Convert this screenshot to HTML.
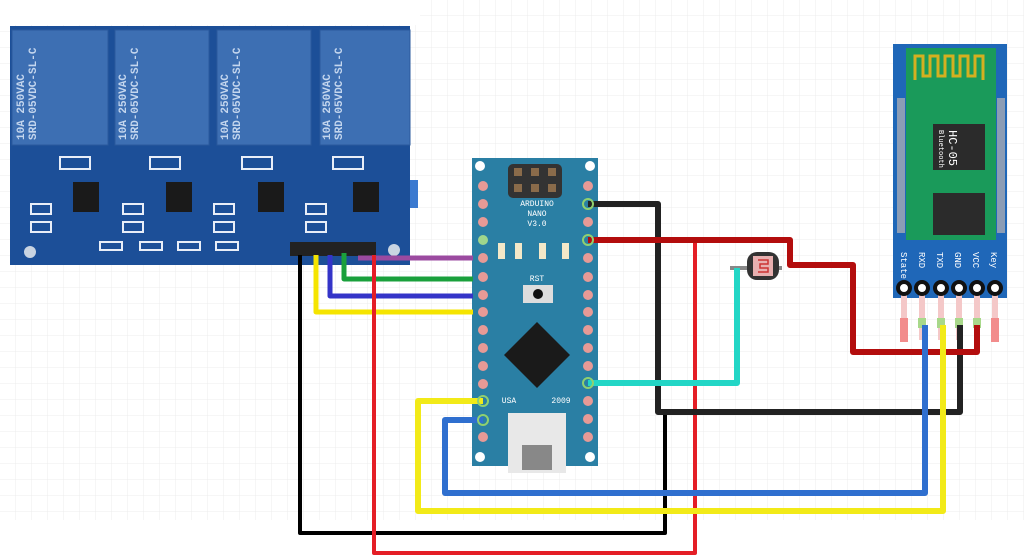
<!DOCTYPE html>
<html><head><meta charset="utf-8"><style>
html,body{margin:0;padding:0;background:#fff;}
svg{display:block;}
text{font-family:"Liberation Mono",monospace;}
</style></head><body>
<svg width="1024" height="560" viewBox="0 0 1024 560" xmlns="http://www.w3.org/2000/svg">
<defs>
<pattern id="g" width="16" height="16" patternUnits="userSpaceOnUse"><path d="M16 0V16H0" fill="none" stroke="#ececec" stroke-width="1"/></pattern>
</defs>
<rect width="1024" height="560" fill="#fff"/>
<rect x="0" y="0" width="1024" height="520" fill="url(#g)"/>
<rect x="0" y="0" width="420" height="25" fill="#fff"/>

<!-- Relay board -->
<rect x="10" y="26" width="400" height="239" fill="#1c4f98"/>
<g fill="#3d6fb3" stroke="#2a5a9c">
<rect x="12" y="30" width="96" height="115"/>
<rect x="115" y="30" width="94" height="115"/>
<rect x="217" y="30" width="94" height="115"/>
<rect x="320" y="30" width="90" height="115"/>
</g>
<g fill="#c4d6ee" font-size="11" font-weight="bold" font-family="Liberation Sans, sans-serif">
<text transform="translate(24,140) rotate(-90)">10A 250VAC</text>
<text transform="translate(36,140) rotate(-90)">SRD-05VDC-SL-C</text>
<text transform="translate(126,140) rotate(-90)">10A 250VAC</text>
<text transform="translate(138,140) rotate(-90)">SRD-05VDC-SL-C</text>
<text transform="translate(228,140) rotate(-90)">10A 250VAC</text>
<text transform="translate(240,140) rotate(-90)">SRD-05VDC-SL-C</text>
<text transform="translate(330,140) rotate(-90)">10A 250VAC</text>
<text transform="translate(342,140) rotate(-90)">SRD-05VDC-SL-C</text>
</g>
<g fill="#1a1a1a">
<rect x="73" y="182" width="26" height="30"/><rect x="166" y="182" width="26" height="30"/>
<rect x="258" y="182" width="26" height="30"/><rect x="353" y="182" width="26" height="30"/>
</g>
<g fill="none" stroke="#e8eef8" stroke-width="2">
<rect x="60" y="157" width="30" height="12"/><rect x="150" y="157" width="30" height="12"/>
<rect x="242" y="157" width="30" height="12"/><rect x="333" y="157" width="30" height="12"/>
<rect x="31" y="204" width="20" height="10"/><rect x="31" y="222" width="20" height="10"/>
<rect x="123" y="204" width="20" height="10"/><rect x="123" y="222" width="20" height="10"/>
<rect x="214" y="204" width="20" height="10"/><rect x="214" y="222" width="20" height="10"/>
<rect x="306" y="204" width="20" height="10"/><rect x="306" y="222" width="20" height="10"/>
<rect x="100" y="242" width="22" height="8"/><rect x="140" y="242" width="22" height="8"/><rect x="178" y="242" width="22" height="8"/><rect x="216" y="242" width="22" height="8"/>
</g>
<rect x="410" y="180" width="8" height="28" fill="#3b7ad0"/>
<rect x="290" y="242" width="86" height="14" fill="#222"/>
<circle cx="30" cy="252" r="6" fill="#c9d4e2"/><circle cx="394" cy="250" r="6" fill="#c9d4e2"/>

<!-- Arduino Nano -->
<rect x="472" y="158" width="126" height="308" fill="#2a7fa4"/>
<rect x="508" y="164" width="54" height="34" rx="5" fill="#333"/>
<g fill="#8a6b4a"><rect x="514" y="168" width="8" height="8"/><rect x="531" y="168" width="8" height="8"/><rect x="548" y="168" width="8" height="8"/>
<rect x="514" y="184" width="8" height="8"/><rect x="531" y="184" width="8" height="8"/><rect x="548" y="184" width="8" height="8"/></g>
<g fill="#fff" font-size="8" text-anchor="middle"><text x="537" y="206">ARDUINO</text><text x="537" y="216">NANO</text><text x="537" y="226">V3.0</text><text x="537" y="281">RST</text><text x="509" y="403">USA</text><text x="561" y="403">2009</text></g>
<rect x="523" y="285" width="30" height="18" fill="#ddd"/><circle cx="538" cy="294" r="5" fill="#111"/>
<rect x="498" y="243" width="7" height="16" fill="#f3e8c8"/><rect x="515" y="243" width="7" height="16" fill="#f3e8c8"/><rect x="539" y="243" width="7" height="16" fill="#f3e8c8"/><rect x="562" y="243" width="7" height="16" fill="#f3e8c8"/>
<polygon points="537,322 570,355 537,388 504,355" fill="#1a1a1a"/>
<rect x="508" y="413" width="58" height="60" fill="#e8e8e8"/>
<rect x="522" y="445" width="30" height="25" fill="#888"/>
<circle cx="480" cy="166" r="5" fill="#fff"/><circle cx="590" cy="166" r="5" fill="#fff"/>
<circle cx="480" cy="457" r="5" fill="#fff"/><circle cx="590" cy="457" r="5" fill="#fff"/>
<g fill="#e79a96">
<circle cx="483" cy="186" r="5"/><circle cx="483" cy="204" r="5"/><circle cx="483" cy="222" r="5"/><circle cx="483" cy="240" r="5" fill="#9fd68c"/>
<circle cx="483" cy="258" r="5"/><circle cx="483" cy="277" r="5"/><circle cx="483" cy="295" r="5"/><circle cx="483" cy="312" r="5"/>
<circle cx="483" cy="330" r="5"/><circle cx="483" cy="348" r="5"/><circle cx="483" cy="366" r="5"/><circle cx="483" cy="384" r="5"/>
<circle cx="483" cy="437" r="5"/>
<circle cx="588" cy="186" r="5"/><circle cx="588" cy="222" r="5"/>
<circle cx="588" cy="258" r="5"/><circle cx="588" cy="277" r="5"/><circle cx="588" cy="295" r="5"/><circle cx="588" cy="312" r="5"/>
<circle cx="588" cy="330" r="5"/><circle cx="588" cy="348" r="5"/><circle cx="588" cy="366" r="5"/>
<circle cx="588" cy="401" r="5"/><circle cx="588" cy="419" r="5"/><circle cx="588" cy="437" r="5"/>
</g>

<!-- HC-05 -->
<rect x="893" y="44" width="114" height="254" fill="#1f67b8"/>
<rect x="906" y="48" width="90" height="192" fill="#1a9a5a"/>
<path d="M915 80V56h8v20h7V56h8v20h7V56h8v20h7V56h8v20h7V56h8v24" fill="none" stroke="#d4b020" stroke-width="3"/>
<rect x="933" y="124" width="52" height="46" fill="#2b2b2b"/>
<rect x="933" y="193" width="52" height="42" fill="#2b2b2b"/>
<text transform="translate(949,130) rotate(90)" fill="#fff" font-size="12">HC-05</text>
<text transform="translate(939,130) rotate(90)" fill="#fff" font-size="7">Bluetooth</text>
<g fill="#8c9db5"><rect x="897" y="98" width="8" height="135"/><rect x="997" y="98" width="8" height="135"/></g>
<g fill="#fff" font-size="9">
<text transform="translate(901,252) rotate(90)">State</text><text transform="translate(919,252) rotate(90)">RXD</text>
<text transform="translate(937,252) rotate(90)">TXD</text><text transform="translate(955,252) rotate(90)">GND</text>
<text transform="translate(973,252) rotate(90)">VCC</text><text transform="translate(991,252) rotate(90)">Key</text></g>
<g stroke="#f4c8c8" stroke-width="6"><path d="M904 290V340M922 290V340M941 290V340M959 290V340M977 290V340M995 290V340"/></g>
<g fill="#f28c8c"><rect x="900" y="318" width="8" height="24"/><rect x="991" y="318" width="8" height="24"/></g>
<g fill="#a8d88a"><rect x="918" y="318" width="8" height="10"/><rect x="937" y="318" width="8" height="10"/><rect x="955" y="318" width="8" height="10"/><rect x="973" y="318" width="8" height="10"/></g>
<g fill="#fff" stroke="#111" stroke-width="4"><circle cx="904" cy="288" r="6"/><circle cx="922" cy="288" r="6"/><circle cx="941" cy="288" r="6"/><circle cx="959" cy="288" r="6"/><circle cx="977" cy="288" r="6"/><circle cx="995" cy="288" r="6"/></g>

<!-- LDR -->
<path d="M730 268H782" stroke="#888" stroke-width="4"/>
<rect x="747" y="252" width="32" height="28" rx="10" fill="#333"/>
<rect x="753" y="256" width="20" height="20" fill="#e8b0b0"/>
<path d="M758 260h10v4h-8v4h8v4h-10" fill="none" stroke="#c33" stroke-width="1.5"/>

<!-- Wires -->
<g fill="none" stroke-linejoin="round">
<path d="M358 258H473" stroke="#9b4aa0" stroke-width="5"/>
<path d="M344 253V279H473" stroke="#1aa03c" stroke-width="5"/>
<path d="M330 255V296H473" stroke="#3434c8" stroke-width="5"/>
<path d="M316 255V312H473" stroke="#f5e400" stroke-width="5"/>
<path d="M300 255V533H665V412" stroke="#000" stroke-width="4"/>
<path d="M374 255V553H695V240" stroke="#e41e26" stroke-width="4"/>
<path d="M588 204H658V412H960V325" stroke="#222" stroke-width="6"/>
<path d="M588 240H790V265H853V352H977V325" stroke="#b30d0d" stroke-width="6"/>
<path d="M588 383H737V268" stroke="#23d6c6" stroke-width="6"/>
<path d="M483 401H418V511H943V325" stroke="#f2ea18" stroke-width="6"/>
<path d="M483 420H445V493H925V325" stroke="#2f6fcf" stroke-width="6"/>
</g>
<g fill="none" stroke="#8fd070" stroke-width="2">
<circle cx="588" cy="204" r="5"/><circle cx="588" cy="240" r="5"/><circle cx="588" cy="383" r="5"/><circle cx="483" cy="401" r="5"/><circle cx="483" cy="420" r="5"/></g>
</svg>
</body></html>
